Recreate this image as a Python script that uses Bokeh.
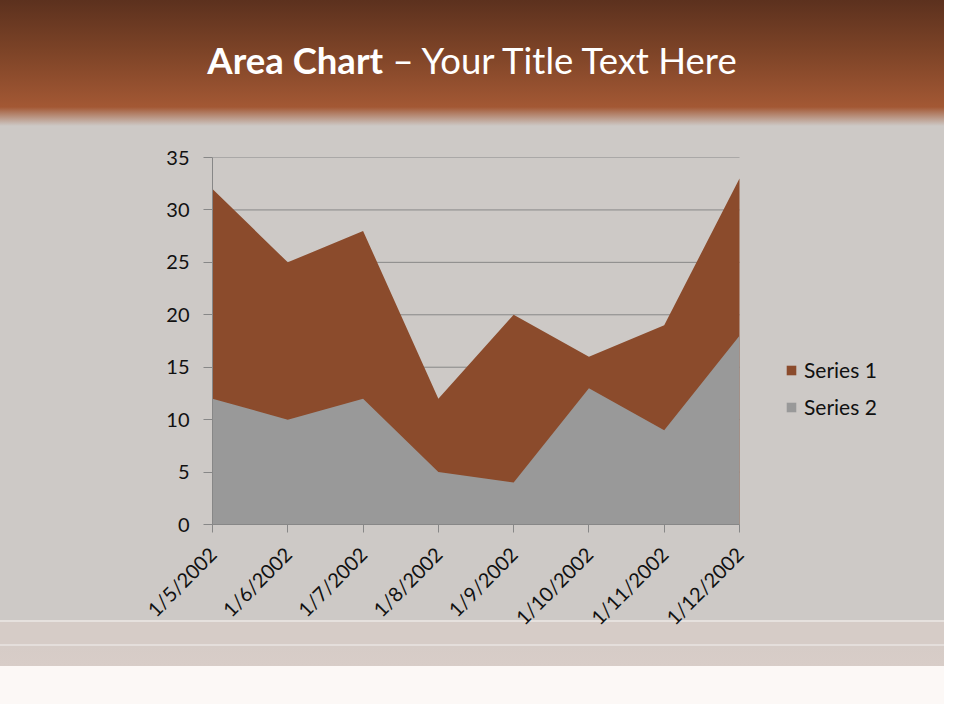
import math
from bokeh.plotting import figure
from bokeh.layouts import column
from bokeh.models import Range1d, FixedTicker, Legend, LegendItem, Div
from bokeh.embed import file_html
from bokeh.resources import INLINE

# ---- data ----
dates = ["1/5/2002", "1/6/2002", "1/7/2002", "1/8/2002",
         "1/9/2002", "1/10/2002", "1/11/2002", "1/12/2002"]
series1 = [32, 25, 28, 12, 20, 16, 19, 33]
series2 = [12, 10, 12, 5, 4, 13, 9, 18]
y_ticks = [0, 5, 10, 15, 20, 25, 30, 35]
title_bold = "Area Chart"
title_rest = "– Your Title Text Here"

# ---- layout constants (px) ----
W = 944
TOP_H = 130          # title band   (y 0..130)
MAIN_H = 574         # chart band   (y 130..704)
PLOT_L, PLOT_R, PLOT_T, PLOT_B = 212, 739, 157, 524
BG = "#cdc9c6"
BROWN = "#8b4b2c"
GRAY = "#999999"
FONT = "Lato"
TXT = "#111111"
AX = "#878787"

SLIDE_BG = ("linear-gradient(to bottom, #5c311e 0px, #7c4327 50px, #a35834 107px, "
            "#cdc9c6 126px, #cdc9c6 620px, #e6e1de 620px, #e6e1de 622px, "
            "#d6ccc7 622px, #d6ccc7 644px, #e4dedb 644px, #e4dedb 646px, "
            "#d6ccc7 646px, #d8cdc8 666px, #fcf8f6 666px, #fcf8f6 704px)")

# ---- title band ----
top = Div(
    text=(f"<div style='position:absolute;left:0;top:40px;width:{W}px;"
          f"text-align:center;font-family:Lato;font-size:36.5px;line-height:40px;color:white;"
          f"white-space:nowrap'><b>{title_bold}</b> {title_rest}</div>"),
    width=W, height=TOP_H, margin=(0, 0, 0, 0),
    styles={"position": "relative", "overflow": "hidden"})

# ---- main chart (frame runs to the right edge so the legend fits inside it) ----
n = len(dates)
x_end = (n - 1) * (W - PLOT_L) / (PLOT_R - PLOT_L)
p = figure(width=W, height=MAIN_H, output_backend="svg", toolbar_location=None,
           x_range=Range1d(0, x_end), y_range=Range1d(0, 35),
           min_border_left=PLOT_L, min_border_right=0,
           min_border_top=PLOT_T - TOP_H, min_border_bottom=TOP_H + MAIN_H - PLOT_B,
           margin=(0, 0, 0, 0))
p.background_fill_color = BG
p.border_fill_alpha = 0
p.outline_line_color = None
p.grid.visible = False

xs = list(range(n))
# horizontal gridlines across the plot area only
p.segment(x0=[0] * len(y_ticks), x1=[n - 1] * len(y_ticks), y0=y_ticks, y1=y_ticks,
          line_color=AX, line_width=1)
r1 = p.varea(x=xs, y1=[0] * n, y2=series1, fill_color=BROWN, fill_alpha=1)
r2 = p.varea(x=xs, y1=[0] * n, y2=series2, fill_color=GRAY, fill_alpha=1)

p.xaxis.ticker = FixedTicker(ticks=xs)
p.xaxis.bounds = (0, n - 1)
p.xaxis.major_label_overrides = {i: d for i, d in enumerate(dates)}
p.xaxis.major_label_orientation = math.pi / 4
p.yaxis.ticker = FixedTicker(ticks=y_ticks)
for ax in (p.xaxis[0], p.yaxis[0]):
    ax.axis_line_color = AX
    ax.major_tick_line_color = AX
    ax.major_tick_in = 0
    ax.minor_tick_line_color = None
    ax.major_label_text_font = FONT
    ax.major_label_text_font_size = "20px"
    ax.major_label_text_color = TXT
p.yaxis.major_tick_out = 9
p.xaxis.major_tick_out = 8
p.yaxis.major_label_standoff = 14
p.xaxis.major_label_standoff = 18

legend = Legend(items=[LegendItem(label="Series 1", renderers=[r1]),
                       LegendItem(label="Series 2", renderers=[r2])],
                location=(785 - PLOT_L, PLOT_B - 419),
                background_fill_alpha=0, border_line_alpha=0,
                label_text_font=FONT, label_text_font_size="21px",
                label_text_color=TXT,
                glyph_width=12, glyph_height=12, label_standoff=7,
                label_height=24, spacing=12, padding=0, margin=0)
p.add_layout(legend, "center")

layout = column(top, p, spacing=0, styles={"background": SLIDE_BG})
open("out.html", "w").write(file_html(layout, INLINE))
